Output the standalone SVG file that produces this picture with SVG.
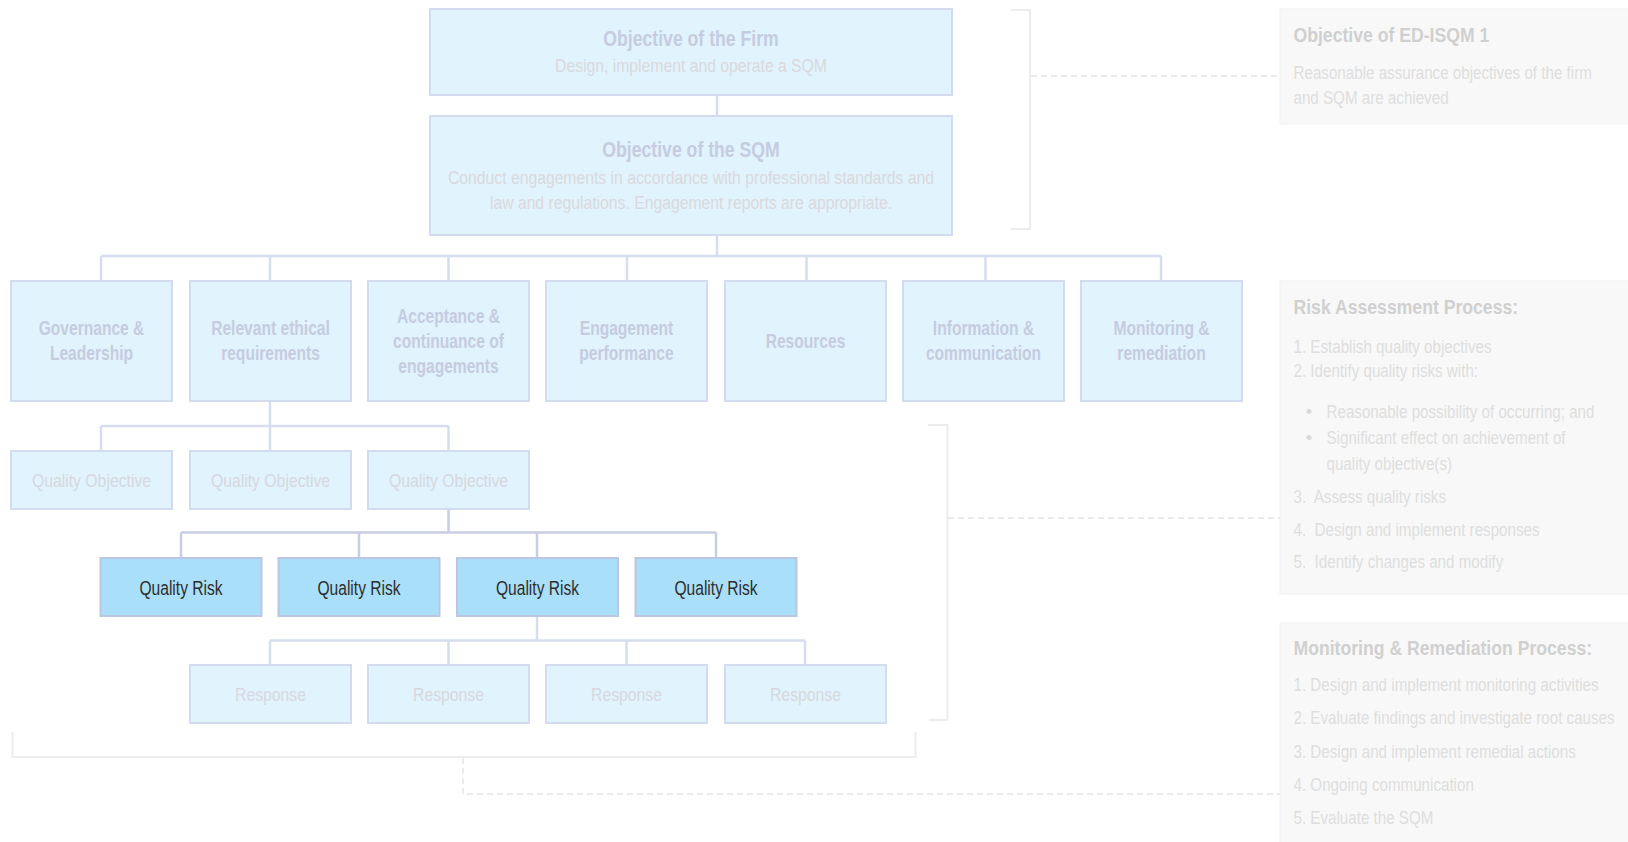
<svg xmlns="http://www.w3.org/2000/svg" width="1628" height="842" viewBox="0 0 1628 842">
<style>
text{font-family:"Liberation Sans",Arial,sans-serif;}
.box{fill:#e1f3fc;stroke:#d3dcee;stroke-width:2;}
.qr{fill:#a9dff8;stroke:#bcc6e0;stroke-width:2;}
.panel{fill:#f8f8f8;stroke:#f1f1f1;stroke-width:1;}
.t1{font-size:21.5px;font-weight:bold;fill:#c5cce0;text-anchor:middle;}
.sub{font-size:19px;fill:#d9d9dd;text-anchor:middle;}
.cat{font-size:19.5px;font-weight:bold;fill:#c5cce0;text-anchor:middle;}
.qo{font-size:19px;fill:#d6d8de;text-anchor:middle;}
.qrt{font-size:19.5px;fill:#2e2e2e;text-anchor:middle;}
.pt{font-size:20.5px;font-weight:bold;fill:#d0d0d0;}
.pb{font-size:18.5px;fill:#dedede;white-space:pre;}
.bul{font-size:18.5px;fill:#dadada;text-anchor:middle;}
.con{fill:none;stroke:#d6ddee;stroke-width:2.5;}
.con2{fill:none;stroke:#c6cee4;stroke-width:2.5;}
.brk{fill:none;stroke:#ececec;stroke-width:2;}
.dash{fill:none;stroke:#e4e4e4;stroke-width:1.5;stroke-dasharray:6 4;}
</style>
<g id="connectors">
<path class="con" d="M717 95V116M717 235V256M101 256H1161M101 256V281M270 256V281M448.5 256V281M627 256V281M806.5 256V281M985.5 256V281M1161 256V281"/>
<path class="con" d="M270 401V426M101 426H448.5M101 426V451M270 426V451M448.5 426V451"/>
<path class="con2" d="M448.5 509V532.5M181 532.5H716M181 532.5V558M359 532.5V558M537 532.5V558M716 532.5V558"/>
<path class="con" d="M537 616V640.5M270 640.5H805M270 640.5V665M448.5 640.5V665M626.5 640.5V665M805 640.5V665"/>
<path class="brk" d="M1011 10H1030V229H1011"/>
<path class="brk" d="M928 425H947.5V720H929"/>
<path class="brk" d="M12.5 732V757H915.5V732"/>
<path class="dash" d="M1031 76H1280"/>
<path class="dash" d="M948 518H1280"/>
<path class="dash" d="M463 758V794H1280"/>
</g>
<g id="firm"><rect class="box" x="430" y="9" width="522" height="86"/><text class="t1" x="0" y="46" transform="translate(691 0) scale(0.82 1)">Objective of the Firm</text><text class="sub" x="0" y="72.5" transform="translate(691 0) scale(0.828 1)">Design, implement and operate a SQM</text></g>
<g id="sqm"><rect class="box" x="430" y="116" width="522" height="119"/><text class="t1" x="0" y="157.5" transform="translate(691 0) scale(0.82 1)">Objective of the SQM</text><text class="sub" x="0" y="184.5" transform="translate(691 0) scale(0.828 1)">Conduct engagements in accordance with professional standards and</text><text class="sub" x="0" y="209" transform="translate(691 0) scale(0.828 1)">law and regulations. Engagement reports are appropriate.</text></g>
<g id="cat1"><rect class="box" x="11" y="281" width="161" height="120"/><text class="cat" x="0" y="335.5" transform="translate(91.5 0) scale(0.8 1)">Governance &amp;</text><text class="cat" x="0" y="360.5" transform="translate(91.5 0) scale(0.8 1)">Leadership</text></g>
<g id="cat2"><rect class="box" x="190" y="281" width="161" height="120"/><text class="cat" x="0" y="335.5" transform="translate(270.5 0) scale(0.8 1)">Relevant ethical</text><text class="cat" x="0" y="360.5" transform="translate(270.5 0) scale(0.8 1)">requirements</text></g>
<g id="cat3"><rect class="box" x="368" y="281" width="161" height="120"/><text class="cat" x="0" y="323.5" transform="translate(448.5 0) scale(0.8 1)">Acceptance &amp;</text><text class="cat" x="0" y="348.5" transform="translate(448.5 0) scale(0.8 1)">continuance of</text><text class="cat" x="0" y="373.5" transform="translate(448.5 0) scale(0.8 1)">engagements</text></g>
<g id="cat4"><rect class="box" x="546" y="281" width="161" height="120"/><text class="cat" x="0" y="335.5" transform="translate(626.5 0) scale(0.8 1)">Engagement</text><text class="cat" x="0" y="360.5" transform="translate(626.5 0) scale(0.8 1)">performance</text></g>
<g id="cat5"><rect class="box" x="725" y="281" width="161" height="120"/><text class="cat" x="0" y="348" transform="translate(805.5 0) scale(0.8 1)">Resources</text></g>
<g id="cat6"><rect class="box" x="903" y="281" width="161" height="120"/><text class="cat" x="0" y="335.5" transform="translate(983.5 0) scale(0.8 1)">Information &amp;</text><text class="cat" x="0" y="360.5" transform="translate(983.5 0) scale(0.8 1)">communication</text></g>
<g id="cat7"><rect class="box" x="1081" y="281" width="161" height="120"/><text class="cat" x="0" y="335.5" transform="translate(1161.5 0) scale(0.8 1)">Monitoring &amp;</text><text class="cat" x="0" y="360.5" transform="translate(1161.5 0) scale(0.8 1)">remediation</text></g>
<g id="qo1"><rect class="box" x="11" y="451" width="161" height="58"/><text class="qo" x="0" y="487" transform="translate(91.5 0) scale(0.83 1)">Quality Objective</text></g>
<g id="qo2"><rect class="box" x="190" y="451" width="161" height="58"/><text class="qo" x="0" y="487" transform="translate(270.5 0) scale(0.83 1)">Quality Objective</text></g>
<g id="qo3"><rect class="box" x="368" y="451" width="161" height="58"/><text class="qo" x="0" y="487" transform="translate(448.5 0) scale(0.83 1)">Quality Objective</text></g>
<g id="qr1"><rect class="qr" x="100.5" y="558" width="161" height="58"/><text class="qrt" x="0" y="595" transform="translate(181 0) scale(0.8 1)">Quality Risk</text></g>
<g id="qr2"><rect class="qr" x="278.5" y="558" width="161" height="58"/><text class="qrt" x="0" y="595" transform="translate(359 0) scale(0.8 1)">Quality Risk</text></g>
<g id="qr3"><rect class="qr" x="457" y="558" width="161" height="58"/><text class="qrt" x="0" y="595" transform="translate(537.5 0) scale(0.8 1)">Quality Risk</text></g>
<g id="qr4"><rect class="qr" x="635.5" y="558" width="161" height="58"/><text class="qrt" x="0" y="595" transform="translate(716 0) scale(0.8 1)">Quality Risk</text></g>
<g id="resp1"><rect class="box" x="190" y="665" width="161" height="58"/><text class="qo" x="0" y="701" transform="translate(270.5 0) scale(0.83 1)">Response</text></g>
<g id="resp2"><rect class="box" x="368" y="665" width="161" height="58"/><text class="qo" x="0" y="701" transform="translate(448.5 0) scale(0.83 1)">Response</text></g>
<g id="resp3"><rect class="box" x="546" y="665" width="161" height="58"/><text class="qo" x="0" y="701" transform="translate(626.5 0) scale(0.83 1)">Response</text></g>
<g id="resp4"><rect class="box" x="725" y="665" width="161" height="58"/><text class="qo" x="0" y="701" transform="translate(805.5 0) scale(0.83 1)">Response</text></g>
<g id="panel-objective"><rect class="panel" x="1280" y="9" width="360" height="115"/><text class="pt" x="0" y="42.5" transform="translate(1293.5 0) scale(0.86 1)">Objective of ED-ISQM 1</text><text class="pb" x="0" y="79.5" transform="translate(1293.5 0) scale(0.82 1)">Reasonable assurance objectives of the firm</text><text class="pb" x="0" y="104" transform="translate(1293.5 0) scale(0.82 1)">and SQM are achieved</text></g>
<g id="panel-risk"><rect class="panel" x="1280" y="281" width="360" height="313"/><text class="pt" x="0" y="314.5" transform="translate(1293.5 0) scale(0.86 1)">Risk Assessment Process:</text><text class="pb" x="0" y="353" transform="translate(1293.5 0) scale(0.82 1)">1. Establish quality objectives</text><text class="pb" x="0" y="377.5" transform="translate(1293.5 0) scale(0.82 1)">2. Identify quality risks with:</text><text class="bul" x="1309" y="418">•</text><text class="pb" x="0" y="418" transform="translate(1326.5 0) scale(0.82 1)">Reasonable possibility of occurring; and</text><text class="bul" x="1309" y="444">•</text><text class="pb" x="0" y="444" transform="translate(1326.5 0) scale(0.82 1)">Significant effect on achievement of</text><text class="pb" x="0" y="470" transform="translate(1326.5 0) scale(0.82 1)">quality objective(s)</text><text class="pb" x="0" y="503" transform="translate(1293.5 0) scale(0.82 1)">3.  Assess quality risks</text><text class="pb" x="0" y="536.5" transform="translate(1293.5 0) scale(0.82 1)">4.  Design and implement responses</text><text class="pb" x="0" y="568.5" transform="translate(1293.5 0) scale(0.82 1)">5.  Identify changes and modify</text></g>
<g id="panel-monitoring"><rect class="panel" x="1280" y="623" width="360" height="230"/><text class="pt" x="0" y="655.5" transform="translate(1293.5 0) scale(0.86 1)">Monitoring &amp; Remediation Process:</text><text class="pb" x="0" y="691.5" transform="translate(1293.5 0) scale(0.82 1)">1. Design and implement monitoring activities</text><text class="pb" x="0" y="724.5" transform="translate(1293.5 0) scale(0.82 1)">2. Evaluate findings and investigate root causes</text><text class="pb" x="0" y="758" transform="translate(1293.5 0) scale(0.82 1)">3. Design and implement remedial actions</text><text class="pb" x="0" y="791" transform="translate(1293.5 0) scale(0.82 1)">4. Ongoing communication</text><text class="pb" x="0" y="824.5" transform="translate(1293.5 0) scale(0.82 1)">5. Evaluate the SQM</text></g>
</svg>
